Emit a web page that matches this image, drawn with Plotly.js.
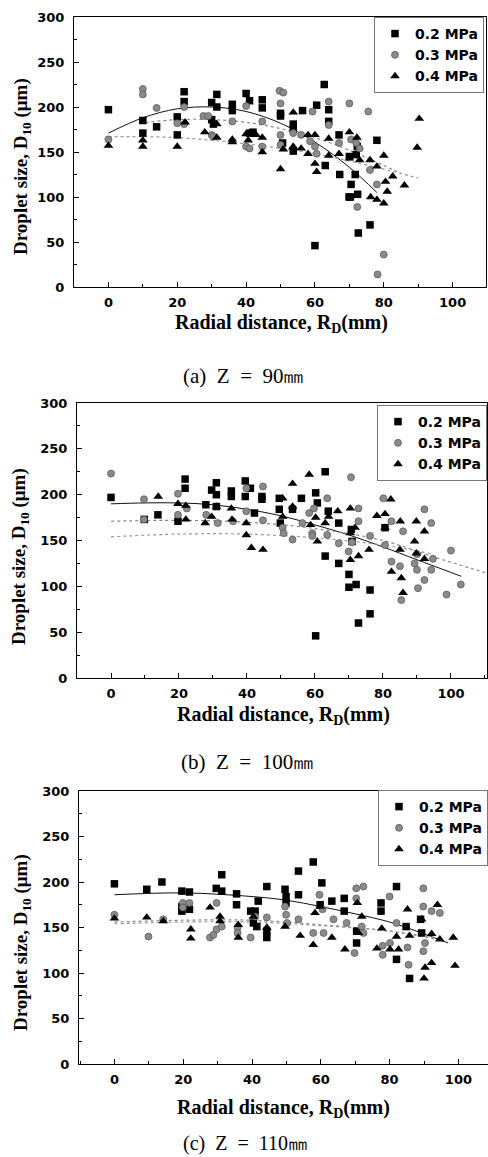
<!DOCTYPE html>
<html>
<head>
<meta charset="utf-8">
<script src="https://cdn.plot.ly/plotly-3.0.1.min.js"></script>
<style>html,body{margin:0;padding:0;background:#fff;}#chart{width:488px;height:1157px;}</style>
</head>
<body>
<div id="chart"></div>
<script>
// ---------- Data ----------
const seriesNames = ['0.2 MPa', '0.3 MPa', '0.4 MPa'];
const panelTitles = ['(a)  Z  =  90㎜', '(b)  Z  =  100㎜', '(c)  Z  =  110㎜'];
const xTitle = '<b>Radial distance, R<sub>D</sub>(mm)</b>';
const yTitle = '<b>Droplet size, D<sub>10</sub> (μm)</b>';
const xTickVals = [0, 20, 40, 60, 80, 100];
const yTickVals = [0, 50, 100, 150, 200, 250, 300];

// Panel (a) Z = 90 mm
const a02x = [0,10,10,14,20,20,22,22,30,31.5,31.5,30,30.5,36,36,40,41,41,42,44.7,44.7,50,50,50.6,53.7,53.7,53.7,56.4,60.5,60,62.7,64,64,63,67,67.2,70,70.3,70.5,71.7,72.4,72.6,72,72.3,76,78,69.9];
const a02y = [197,185,171,178,189,169,217,206,205,214,200,186,181,203,196,215,207,171,172,208,199,193,190,160,181,175,151,196,202,46,225,197,184,135,169,125,145,100,114,125,103,60,147,156,69,163,100];
const a03x = [0,10,10,14,20,22,22,27.6,29,30,30.5,36,40,40,41,44.7,44.7,49.7,50.8,50,50,50,53.7,56,59.3,58.6,60,60.5,64,64,67,70,70.5,72,73,72.3,75.5,76,78,80,78.2];
const a03y = [164,220,214,199,182,181,200,190,190,169,167,184,201,156,154,184,156,218,216,204,169,158,171,169,195,162,156,148,206,180,160,204,164,160,154,89,195,130,114,36,14];
const a04x = [0,10,10,20,22.3,28,31.5,31.5,36,36,40,40.6,42.9,44.7,44.7,50,50.8,53.7,53.7,56,58,58,60,60,60.5,64,64,67,70,70,72.2,73,76,76.2,78,78,80,80,80.5,81,82.6,86,89.7,90.3];
const a04y = [157,156,163,156,183,172,166,181,161,164,170,163,169,166,150,131,153,194,156,154,169,148,169,137,128,165,146,148,172,143,166,141,141,100,134,97,146,93,117,106,123,113,155,187];
const aFit02x = [0,10,20,30,40,50,60,70,78];
const aFit02y = [171,188,198,200,195,182,161,133,105];
const aFit03x = [9,20,30,40,50,60,70,80,85];
const aFit03y = [182,186,186,183,176,166,152,135,126];
const aFit04x = [0,10,20,30,40,50,60,70,80,90];
const aFit04y = [167,167,166,163,159,154,148,140,131,121];

// Panel (b) Z = 100 mm
const b02x = [0,9.8,13.8,19.7,21.8,21.8,27.9,29.6,31,31,31,35.4,35.4,39.5,39.5,41,42.2,44.4,44.4,49.5,49.5,49.8,53.4,56,60.2,60.7,60.2,63,63.9,63,67,67,70,70,72.1,72.8,70.7,70.9,76.2,76.2,80.6];
const b02y = [197,173,178,171,217,207,189,205,213,200,187,204,198,215,198,207,180,198,195,196,184,169,184,196,202,191,46,225,182,133,169,125,113,99,102,60,162,149,96,70,164];
const b03x = [0,9.7,9.7,19.7,19.7,22.3,28,31.4,35.9,39.8,39.8,44.7,44.7,50.5,50.8,53.4,56.3,58.3,59.7,59.2,59.2,63.6,63.6,67,70.6,69.9,70.9,72.8,72.8,76.2,80.1,80.6,82.5,82.5,85,85.4,85.9,89.3,90,90.3,90,92.2,92.2,94.2,94.7,94.2,100,98.7,102.9];
const b03y = [223,195,173,201,178,185,178,169,171,207,182,209,172,164,158,151,169,180,185,158,155,196,156,147,219,138,148,185,171,155,196,145,127,171,122,85,160,125,135,98,118,107,184,169,130,118,139,91,102];
const b04x = [13.9,19.7,22,22,27.7,29.6,31,35.4,35.6,39.8,39.8,41.3,44.7,50.5,50.5,53.4,53.4,58.3,58.7,60.2,60.7,63,64,66.7,70.4,70.4,70.4,71.8,72.8,75.9,78.2,80.6,80.6,82.3,82.5,85.1,85,85.4,85.9,89.8,89.3,89.8,92.2,92.2];
const b04y = [198,190,188,173,169,176,187,185,173,169,156,142,140,196,176,187,212,222,167,175,149,169,176,182,185,158,129,164,133,140,177,179,164,195,116,171,140,109,93,171,149,136,160,130];
const bFit02x = [0,10,20,30,40,50,60,70,80,90,103];
const bFit02y = [190,191,191,189,184,177,167,156,143,129,111];
const bFit03x = [0,20,40,60,80,95,110];
const bFit03y = [171,172,170,163,150,132,115];
const bFit04x = [0,20,40,60,80,95];
const bFit04y = [154,157,157,153,145,135];

// Panel (c) Z = 110 mm
const c02x = [0,9.4,13.8,19.6,21.8,19.6,19.6,21.8,29.6,31.2,31.2,35.5,35.5,39.6,40.9,41.8,44.3,44.3,40.4,41.4,44.3,49.6,49.9,49.9,53.5,53.5,57.8,60.3,59.8,63.2,66.8,66.8,70.4,70.4,77.5,77.5,82,82,84.8,85.8,89,89.3];
const c02y = [198,192,200,190,189,173,168,170,193,208,190,187,175,168,168,179,195,146,155,151,139,192,184,177,212,186,222,199,175,179,182,168,146,133,177,168,195,115,151,94,159,144];
const c03x = [0,9.9,14.2,19.9,19.9,21.8,27.8,28.8,29.7,29.7,31.2,35.8,35.8,39.6,40.9,44.3,49.6,49.9,50.2,53.5,57.8,59.6,60.5,60.8,63.7,67.5,69.8,70.3,70.3,72.4,71.9,72.4,78,78,80,80.1,82,85.2,85.5,89.8,89.8,90.3,92.2,94.6,89.8];
const c03y = [164,140,159,177,172,177,139,142,177,148,151,150,144,139,162,161,173,164,155,159,144,186,170,144,159,155,122,193,182,195,151,144,130,120,184,133,155,128,109,193,173,133,168,166,124];
const c04x = [0,9.4,14.2,22.2,22.2,27.8,30.7,30.7,36,36,40.4,44.3,49.6,54,58.3,57.8,59.8,63.2,67,70.6,70.9,71.9,76.3,77.7,80.1,82,82.6,85.2,85.8,89.3,90,90.3,92.2,92.2,93.9,94.6,98.5,99];
const c04y = [160,161,157,148,138,172,162,157,153,139,162,150,151,141,166,131,173,139,126,177,144,162,127,149,126,140,126,170,141,159,94,106,111,143,175,137,139,108];
const cFit02x = [0,20,40,50,60,70,80,90,97];
const cFit02y = [186,188,184,180,173,165,156,143,133];
const cFit03x = [0,20,40,60,80,95];
const cFit03y = [156,158,158,153,146,136];
const cFit04x = [0,20,40,60,80,95];
const cFit04y = [154,156,156,152,146,138];

// ---------- Build ----------
const markerStyles = [
  {symbol: 'square', size: 7.5, color: '#000'},
  {symbol: 'circle', size: 7, color: '#8a8a8a', line: {color: '#555', width: 0.7}},
  {symbol: 'triangle-up', size: 8.5, color: '#000'}
];
const fitStyles = [
  {color: '#111', width: 1, dash: 'solid'},
  {color: '#888', width: 1.2, dash: 'dot'},
  {color: '#999', width: 1.2, dash: 'dot'}
];

const panels = [
  {pts: [[a02x,a02y],[a03x,a03y],[a04x,a04y]], fits: [[aFit02x,aFit02y],[aFit03x,aFit03y],[aFit04x,aFit04y]]},
  {pts: [[b02x,b02y],[b03x,b03y],[b04x,b04y]], fits: [[bFit02x,bFit02y],[bFit03x,bFit03y],[bFit04x,bFit04y]]},
  {pts: [[c02x,c02y],[c03x,c03y],[c04x,c04y]], fits: [[cFit02x,cFit02y],[cFit03x,cFit03y],[cFit04x,cFit04y]]}
];

const traces = [];
panels.forEach((p, i) => {
  const xa = i === 0 ? 'x' : 'x' + (i + 1);
  const ya = i === 0 ? 'y' : 'y' + (i + 1);
  const lg = i === 0 ? 'legend' : 'legend' + (i + 1);
  p.fits.forEach((f, k) => {
    traces.push({x: f[0], y: f[1], xaxis: xa, yaxis: ya, mode: 'lines', line: Object.assign({shape: 'spline'}, fitStyles[k]), showlegend: false, hoverinfo: 'skip'});
  });
  p.pts.forEach((s, k) => {
    traces.push({x: s[0], y: s[1], xaxis: xa, yaxis: ya, mode: 'markers', type: 'scatter', name: seriesNames[k], legend: lg, marker: markerStyles[k]});
  });
});

const W = 488, H = 1157;
const tickFont = {family: 'DejaVu Sans', size: 13, color: '#000', weight: 'bold'};
function xAxis(l, r, range, anchor) {
  return {domain: [l / W, r / W], range: range, anchor: anchor, showline: true, linecolor: '#000', linewidth: 1, mirror: true,
    ticks: 'inside', ticklen: 5, tickwidth: 1, tickcolor: '#000', tickmode: 'array', tickvals: xTickVals,
    minor: {ticks: 'inside', ticklen: 3, dtick: 10, tick0: 0, tickcolor: '#000'},
    showgrid: false, zeroline: false, tickfont: tickFont, ticklabelstandoff: 3};
}
function yAxis(top, bottom, anchor) {
  return {domain: [1 - bottom / H, 1 - top / H], range: [0, 300], anchor: anchor, showline: true, linecolor: '#000', linewidth: 1, mirror: true,
    ticks: 'inside', ticklen: 5, tickwidth: 1, tickcolor: '#000', tickmode: 'array', tickvals: yTickVals,
    minor: {ticks: 'inside', ticklen: 3, dtick: 25, tick0: 0, tickcolor: '#000'},
    showgrid: false, zeroline: false, tickfont: tickFont, ticklabelstandoff: 6};
}
function legendAt(right, top) {
  return {x: right / W, y: 1 - top / H, xanchor: 'right', yanchor: 'top', bgcolor: '#fff', bordercolor: '#777', borderwidth: 1,
    font: {family: 'DejaVu Sans', size: 14, color: '#000', weight: 'bold'}, itemsizing: 'trace', tracegroupgap: 0};
}

const serif = 'Liberation Serif';
function ann(text, cx, cy, size, angle) {
  return {text: text, x: cx / W, y: 1 - cy / H, xref: 'paper', yref: 'paper', xanchor: 'center', yanchor: 'middle', showarrow: false,
    textangle: angle || 0, font: {family: serif, size: size, color: '#000'}};
}

const layout = {
  width: W, height: H, autosize: false, margin: {l: 0, r: 0, t: 0, b: 0}, paper_bgcolor: '#fff', plot_bgcolor: '#fff',
  xaxis: xAxis(74, 486, [-10, 109.7], 'y'),
  yaxis: yAxis(17, 287, 'x'),
  xaxis2: xAxis(77, 487, [-10, 110.6], 'y2'),
  yaxis2: yAxis(403, 678, 'x2'),
  xaxis3: xAxis(79, 488, [-10.3, 108.6], 'y3'),
  yaxis3: yAxis(791, 1064, 'x3'),
  legend: legendAt(484, 17),
  legend2: legendAt(487, 405),
  legend3: legendAt(488, 790),
  annotations: [
    ann(yTitle, 22, 167, 19, -90), ann(xTitle, 281, 323, 20), ann(panelTitles[0], 243, 376, 21),
    ann(yTitle, 20, 557, 19, -90), ann(xTitle, 283, 715, 20), ann(panelTitles[1], 247, 762, 21),
    ann(yTitle, 22, 943, 19, -90), ann(xTitle, 283, 1108, 20), ann(panelTitles[2], 245, 1143, 20)
  ],
  showlegend: true
};

Plotly.newPlot('chart', traces, layout, {staticPlot: true, displayModeBar: false});
</script>
</body>
</html>
